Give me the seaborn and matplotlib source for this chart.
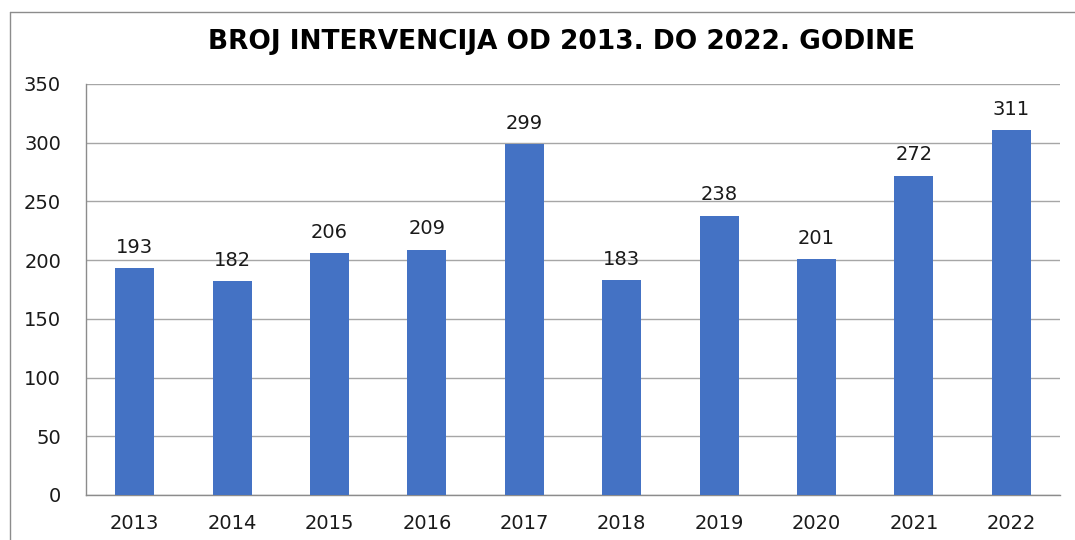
import seaborn as sns
import pandas as pd
import matplotlib.pyplot as plt
from matplotlib.lines import Line2D

years = ["2013", "2014", "2015", "2016", "2017", "2018", "2019", "2020", "2021", "2022"]
interventions = [193, 182, 206, 209, 299, 183, 238, 201, 272, 311]
title = "BROJ INTERVENCIJA OD 2013. DO 2022. GODINE"

df = pd.DataFrame({"godina": years, "broj": interventions})

sns.set_style("white")
plt.rcParams["font.family"] = ["DejaVu Sans"]

fig = plt.figure(figsize=(10.75, 5.4), dpi=100)
ax = fig.add_axes([86 / 1075, 1 - 495 / 540, (1060 - 86) / 1075, (495 - 84) / 540])

sns.barplot(data=df, x="godina", y="broj", color="#4472C4", width=0.4,
            saturation=1, linewidth=0, ax=ax, zorder=3)

ax.set_ylim(0, 350)
ax.set_xlim(-0.5, len(years) - 0.5)
ax.set_yticks(range(0, 351, 50))
ax.yaxis.grid(True, color="#a6a6a6", linewidth=1)
ax.set_axisbelow(True)
ax.set_xlabel("")
ax.set_ylabel("")

for s in ["top", "right"]:
    ax.spines[s].set_visible(False)
for s in ["left", "bottom"]:
    ax.spines[s].set_color("#8c8c8c")
    ax.spines[s].set_linewidth(1)

ax.tick_params(axis="y", length=7, color="#8c8c8c", labelsize=14, pad=11,
               labelcolor="#1a1a1a")
ax.tick_params(axis="x", which="major", length=0, labelsize=14, pad=14,
               labelcolor="#1a1a1a")
ax.set_xticks([i - 0.5 for i in range(len(years) + 1)], minor=True)
ax.tick_params(axis="x", which="minor", length=6, color="#8c8c8c", direction="out")

for i, v in enumerate(interventions):
    ax.annotate(str(v), (i, v), xytext=(0, 8), textcoords="offset points",
                ha="center", va="bottom", fontsize=14, color="#1a1a1a")

fig.text(561 / 1075, 1 - 42 / 540, title, ha="center", va="center", fontsize=19,
         fontweight="bold", color="black")

# outer chart border
fig.add_artist(Line2D([10 / 1075, 10 / 1075], [0, 1 - 12 / 540],
                      transform=fig.transFigure, color="#8c8c8c", linewidth=1))
fig.add_artist(Line2D([10 / 1075, 1], [1 - 12 / 540, 1 - 12 / 540],
                      transform=fig.transFigure, color="#8c8c8c", linewidth=1))

fig.savefig("out.png", dpi=100)
